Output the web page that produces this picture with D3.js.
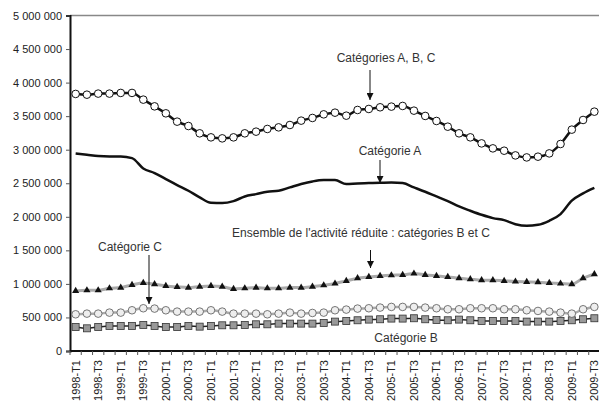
<!DOCTYPE html>
<html>
<head>
<meta charset="utf-8">
<script src="https://cdn.jsdelivr.net/npm/d3@7"></script>
<style>
  body { margin: 0; background: #fff; }
  #chart { width: 599px; height: 407px; }
  .axis text { font-family: "Liberation Sans", Arial, sans-serif; font-size: 11px; fill: #222; }
  .note { font-family: "Liberation Sans", Arial, sans-serif; font-size: 12px; fill: #333; }
</style>
</head>
<body>
<div id="chart"></div>
<script>
var quarters = [
  "1998-T1","1998-T2","1998-T3","1998-T4","1999-T1","1999-T2","1999-T3","1999-T4",
  "2000-T1","2000-T2","2000-T3","2000-T4","2001-T1","2001-T2","2001-T3","2001-T4",
  "2002-T1","2002-T2","2002-T3","2002-T4","2003-T1","2003-T2","2003-T3","2003-T4",
  "2004-T1","2004-T2","2004-T3","2004-T4","2005-T1","2005-T2","2005-T3","2005-T4",
  "2006-T1","2006-T2","2006-T3","2006-T4","2007-T1","2007-T2","2007-T3","2007-T4",
  "2008-T1","2008-T2","2008-T3","2008-T4","2009-T1","2009-T2","2009-T3"
];

// only T1 and T3 are labelled
var tickLabels = quarters.filter(function(q) { return /T[13]$/.test(q); });

var yTicks = [0, 500000, 1000000, 1500000, 2000000, 2500000, 3000000, 3500000, 4000000, 4500000, 5000000];

var catABC = [3831000, 3820000, 3836000, 3836000, 3846000, 3846000, 3746000, 3646000, 3542000, 3418000,
  3353000, 3244000, 3184000, 3169000, 3184000, 3244000, 3269000, 3309000, 3333000, 3368000,
  3433000, 3473000, 3527000, 3552000, 3507000, 3592000, 3607000, 3632000, 3642000, 3652000,
  3582000, 3503000, 3428000, 3343000, 3244000, 3184000, 3094000, 3020000, 2985000, 2915000,
  2885000, 2896000, 2945000, 3085000, 3299000, 3443000, 3567000];

var catA = [2945000, 2925000, 2905000, 2900000, 2900000, 2875000, 2720000, 2652000, 2562000, 2473000,
  2388000, 2289000, 2209000, 2204000, 2234000, 2303000, 2338000, 2373000, 2388000, 2438000,
  2488000, 2527000, 2547000, 2547000, 2488000, 2498000, 2502000, 2507000, 2512000, 2502000,
  2438000, 2373000, 2303000, 2234000, 2154000, 2090000, 2030000, 1980000, 1950000, 1890000,
  1866000, 1880000, 1940000, 2040000, 2240000, 2348000, 2430000];

var catBC = [896000, 905000, 905000, 935000, 945000, 985000, 1015000, 995000, 970000, 955000,
  945000, 960000, 970000, 960000, 925000, 935000, 945000, 935000, 935000, 945000,
  945000, 960000, 980000, 1005000, 1045000, 1085000, 1104000, 1119000, 1129000, 1134000,
  1154000, 1134000, 1119000, 1104000, 1085000, 1070000, 1055000, 1055000, 1045000, 1035000,
  1030000, 1025000, 1015000, 1005000, 995000, 1085000, 1144000];

var catC = [547000, 557000, 557000, 572000, 572000, 607000, 637000, 632000, 607000, 587000,
  587000, 587000, 607000, 587000, 557000, 557000, 557000, 547000, 557000, 572000,
  557000, 567000, 572000, 607000, 617000, 632000, 637000, 647000, 657000, 657000,
  657000, 647000, 637000, 622000, 622000, 637000, 637000, 637000, 622000, 622000,
  607000, 597000, 587000, 572000, 557000, 622000, 657000];

var catB = [358000, 338000, 358000, 373000, 373000, 373000, 388000, 373000, 358000, 358000,
  373000, 363000, 373000, 383000, 383000, 388000, 398000, 398000, 408000, 408000,
  408000, 408000, 418000, 438000, 448000, 458000, 468000, 473000, 483000, 483000,
  488000, 473000, 463000, 458000, 468000, 458000, 448000, 448000, 448000, 448000,
  438000, 438000, 438000, 448000, 458000, 473000, 488000];

var svgWidth = 599;
var svgHeight = 407;

var margin = { top: 15.5, right: -1, bottom: 56, left: 70 };
var width = svgWidth - margin.left - margin.right;
var height = svgHeight - margin.top - margin.bottom;

var svg = d3.select("#chart")
  .append("svg")
  .attr("width", svgWidth)
  .attr("height", svgHeight);

var chartGroup = svg.append("g")
  .attr("transform", `translate(${margin.left}, ${margin.top})`);

var xScale = d3.scaleBand()
  .domain(quarters)
  .range([0, width])
  .padding(0);

var yScale = d3.scaleLinear()
  .domain([0, 5000000])
  .range([height, 0]);

function xc(d, i) { return xScale(quarters[i]) + xScale.bandwidth() / 2; }

var fmt = function(v) { return d3.format(",")(v).replace(/,/g, " "); };

// top border
chartGroup.append("line")
  .attr("x1", 0).attr("x2", width)
  .attr("y1", 0).attr("y2", 0)
  .attr("stroke", "#888")
  .attr("stroke-width", 1.5);

// y axis
var leftAxis = d3.axisLeft(yScale)
  .tickValues(yTicks)
  .tickFormat(fmt)
  .tickSize(4)
  .tickPadding(4);

var yAxisG = chartGroup.append("g")
  .attr("class", "axis")
  .call(leftAxis);
yAxisG.select(".domain").attr("stroke", "#111").attr("stroke-width", 2);
yAxisG.selectAll(".tick line").attr("stroke", "#555");

// x axis: ticks between quarters, labels on T1 and T3
var xAxisG = chartGroup.append("g")
  .attr("class", "axis")
  .attr("transform", `translate(0, ${height})`);

xAxisG.append("line")
  .attr("x1", 0).attr("x2", width)
  .attr("stroke", "#111")
  .attr("stroke-width", 2);

xAxisG.selectAll(".xtick")
  .data(quarters)
  .enter()
  .append("line")
  .attr("class", "xtick")
  .attr("x1", d => xScale(d)).attr("x2", d => xScale(d))
  .attr("y1", 0).attr("y2", 4)
  .attr("stroke", "#555");

xAxisG.selectAll(".xlabel")
  .data(tickLabels)
  .enter()
  .append("text")
  .attr("class", "xlabel")
  .attr("transform", d => `translate(${xScale(d) + xScale.bandwidth() / 2 + 4}, 9) rotate(-90)`)
  .attr("text-anchor", "end")
  .text(d => d);

// series
function drawLine(values, color, w) {
  var line = d3.line()
    .x(xc)
    .y(d => yScale(d))
    .curve(d3.curveMonotoneX);
  chartGroup.append("path")
    .datum(values)
    .attr("fill", "none")
    .attr("stroke", color)
    .attr("stroke-width", w)
    .attr("stroke-linejoin", "round")
    .attr("d", line);
}

drawLine(catB, "#222", 1.5);
chartGroup.selectAll(".sqB")
  .data(catB)
  .enter()
  .append("rect")
  .attr("x", (d, i) => xc(d, i) - 3.5)
  .attr("y", d => yScale(d) - 3.5)
  .attr("width", 7).attr("height", 7)
  .attr("fill", "#999")
  .attr("stroke", "#333")
  .attr("stroke-width", 0.8);

drawLine(catC, "#aaa", 2.5);
chartGroup.selectAll(".cirC")
  .data(catC)
  .enter()
  .append("circle")
  .attr("cx", xc)
  .attr("cy", d => yScale(d))
  .attr("r", 3.8)
  .attr("fill", "#eee")
  .attr("stroke", "#555")
  .attr("stroke-width", 0.8);

drawLine(catBC, "#aaa", 3);
chartGroup.selectAll(".triBC")
  .data(catBC)
  .enter()
  .append("path")
  .attr("transform", (d, i) => `translate(${xc(d, i)}, ${yScale(d)})`)
  .attr("d", d3.symbol().type(d3.symbolTriangle).size(22))
  .attr("fill", "#111");

drawLine(catA, "#111", 2.5);

drawLine(catABC, "#111", 2.5);
chartGroup.selectAll(".cirABC")
  .data(catABC)
  .enter()
  .append("circle")
  .attr("cx", xc)
  .attr("cy", d => yScale(d))
  .attr("r", 3.8)
  .attr("fill", "#fff")
  .attr("stroke", "#111")
  .attr("stroke-width", 1);

// annotations
svg.append("defs").append("marker")
  .attr("id", "arrow")
  .attr("viewBox", "0 0 10 10")
  .attr("refX", 10).attr("refY", 5)
  .attr("markerWidth", 7).attr("markerHeight", 7)
  .attr("markerUnits", "userSpaceOnUse")
  .attr("orient", "auto")
  .append("path")
  .attr("d", "M0,0 L10,5 L0,10 z")
  .attr("fill", "#111");

var notes = [
  { text: "Catégories A, B, C", tx: 386, ty: 62, ax: 370, ay1: 70, ay2: 100 },
  { text: "Catégorie A", tx: 390, ty: 155, ax: 380, ay1: 160, ay2: 183 },
  { text: "Ensemble de l'activité réduite : catégories B et C", tx: 361, ty: 237, ax: 370.5, ay1: 250, ay2: 268 },
  { text: "Catégorie C", tx: 130, ty: 251, ax: 149, ay1: 255, ay2: 304 },
  { text: "Catégorie B", tx: 406, ty: 342 }
];

notes.forEach(function(n) {
  svg.append("text")
    .attr("class", "note")
    .attr("x", n.tx)
    .attr("y", n.ty)
    .attr("text-anchor", "middle")
    .text(n.text);
  if (n.ax) {
    svg.append("line")
      .attr("x1", n.ax).attr("x2", n.ax)
      .attr("y1", n.ay1).attr("y2", n.ay2)
      .attr("stroke", "#111")
      .attr("stroke-width", 1)
      .attr("marker-end", "url(#arrow)");
  }
});
</script>
</body>
</html>
